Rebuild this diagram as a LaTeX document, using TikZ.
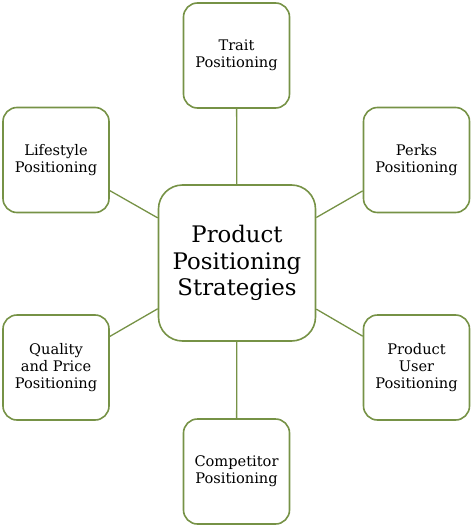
\documentclass[tikz,border=0pt]{standalone}
\usepackage{fontspec}
\setmainfont{DejaVu Serif}
\definecolor{olive}{RGB}{118,146,70}
\begin{document}
\begin{tikzpicture}[x=1pt,y=-1pt,
  small/.style={draw=olive,line width=1.6pt,rounded corners=14pt,minimum width=106pt,minimum height=105pt,align=center,inner sep=0pt,font=\fontsize{14.6}{16.8}\selectfont},
  big/.style={draw=olive,line width=1.6pt,rounded corners=24pt,minimum width=157pt,minimum height=156pt,align=center,inner sep=0pt,font=\fontsize{22.8}{26.5}\selectfont},
  link/.style={draw=olive,line width=1.3pt}]
\useasboundingbox (0,0) rectangle (474,527);
\node[big] (c) at (237,263) {Product\\Positioning\\Strategies};
\node[small] (t) at (236.5,55.5) {Trait\\Positioning};
\node[small] (l) at (56,160) {Lifestyle\\Positioning};
\node[small] (p) at (416.5,160) {Perks\\Positioning};
\node[small] (q) at (56,367.5) {Quality\\and Price\\Positioning};
\node[small] (u) at (416.5,367.5) {Product\\User\\Positioning};
\node[small] (k) at (236.5,471.5) {Competitor\\Positioning};
\draw[link] (c) -- (t);
\draw[link] (c) -- (l);
\draw[link] (c) -- (p);
\draw[link] (c) -- (q);
\draw[link] (c) -- (u);
\draw[link] (c) -- (k);
\end{tikzpicture}
\end{document}
